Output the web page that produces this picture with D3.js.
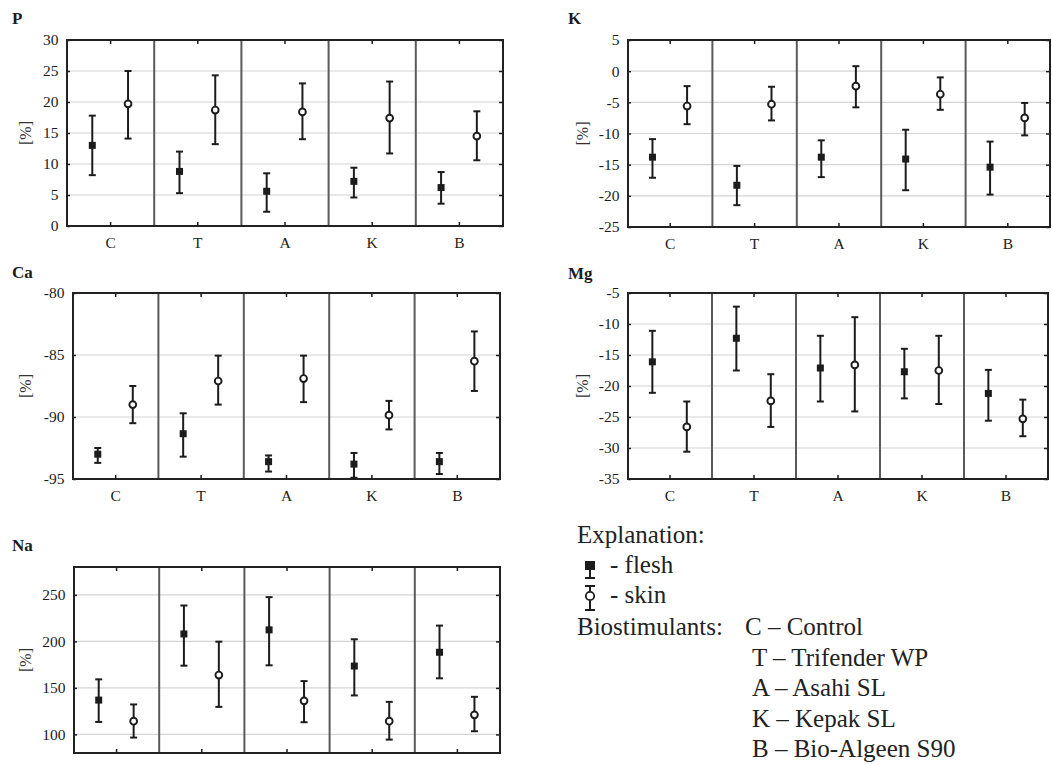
<!DOCTYPE html>
<html>
<head>
<meta charset="utf-8">
<script src="https://cdn.jsdelivr.net/npm/d3@7"></script>
<style>
  body { margin: 0; background: #fff; }
</style>
</head>
<body>
<svg id="chart" width="1052" height="765"></svg>
<script>
// biostimulant groups
var categories = ["C", "T", "A", "K", "B"];

// each entry: [lower, mean, upper]
var pFlesh = [[8.2, 13.0, 17.8], [5.3, 8.8, 12.0], [2.3, 5.6, 8.5], [4.6, 7.2, 9.4], [3.6, 6.2, 8.7]];
var pSkin  = [[14.1, 19.7, 25.0], [13.2, 18.7, 24.3], [14.0, 18.4, 23.0], [11.7, 17.4, 23.3], [10.6, 14.5, 18.5]];

var kFlesh = [[-17.1, -13.8, -10.9], [-21.5, -18.3, -15.2], [-17.0, -13.8, -11.1], [-19.1, -14.1, -9.4], [-19.8, -15.4, -11.3]];
var kSkin  = [[-8.5, -5.6, -2.4], [-7.9, -5.3, -2.5], [-5.8, -2.4, 0.8], [-6.2, -3.7, -1.0], [-10.3, -7.5, -5.1]];

var caFlesh = [[-93.7, -93.0, -92.5], [-93.2, -91.35, -89.7], [-94.4, -93.6, -93.1], [-94.9, -93.8, -92.9], [-94.6, -93.6, -92.9]];
var caSkin  = [[-90.5, -89.0, -87.5], [-89.0, -87.1, -85.05], [-88.8, -86.9, -85.05], [-91.0, -89.85, -88.7], [-87.9, -85.5, -83.1]];

var mgFlesh = [[-21.1, -16.1, -11.1], [-17.5, -12.3, -7.2], [-22.5, -17.1, -11.9], [-22.0, -17.7, -14.0], [-25.6, -21.2, -17.4]];
var mgSkin  = [[-30.6, -26.6, -22.5], [-26.6, -22.4, -18.1], [-24.1, -16.6, -8.9], [-22.9, -17.5, -11.9], [-28.1, -25.3, -22.2]];

var naFlesh = [[113.4, 136.9, 159.2], [173.9, 208.0, 238.6], [174.3, 212.4, 247.6], [141.9, 173.5, 202.3], [160.3, 188.3, 217.0]];
var naSkin  = [[96.6, 114.2, 132.2], [129.6, 163.8, 199.7], [113.1, 136.1, 157.3], [94.4, 114.2, 135.0], [103.4, 121.0, 140.4]];

// y-axis ticks
var pTicks = [0, 5, 10, 15, 20, 25, 30];
var kTicks = [-25, -20, -15, -10, -5, 0, 5];
var caTicks = [-95, -90, -85, -80];
var mgTicks = [-35, -30, -25, -20, -15, -10, -5];
var naTicks = [100, 150, 200, 250];

var legendNames = ["C \u2013 Control", "T \u2013 Trifender WP", "A \u2013 Asahi SL", "K \u2013 Kepak SL", "B \u2013 Bio-Algeen S90"];

var panels = [
  {name: "P",  flesh: pFlesh,  skin: pSkin,  domain: [0, 30],    ticks: pTicks,  box: [67, 40, 503, 226],    tx: 12,  ty: 24,  lx: 25},
  {name: "K",  flesh: kFlesh,  skin: kSkin,  domain: [-25, 5],   ticks: kTicks,  box: [628, 40, 1050, 227],  tx: 568, ty: 24,  lx: 582},
  {name: "Ca", flesh: caFlesh, skin: caSkin, domain: [-95, -80], ticks: caTicks, box: [73, 293, 500, 479],   tx: 12,  ty: 278, lx: 25},
  {name: "Mg", flesh: mgFlesh, skin: mgSkin, domain: [-35, -5],  ticks: mgTicks, box: [628, 293, 1048, 479], tx: 568, ty: 279, lx: 582},
  {name: "Na", flesh: naFlesh, skin: naSkin, domain: [80, 280],  ticks: naTicks, box: [74, 567, 500, 753],   tx: 12,  ty: 551, lx: 25}
];

var svg = d3.select("#chart");
var ink = "#1c1c1c";

panels.forEach(function(p) {
  var x0 = p.box[0], y0 = p.box[1], x1 = p.box[2], y1 = p.box[3];
  var x = d3.scaleBand().domain(categories).range([x0, x1]).paddingInner(0).paddingOuter(0);
  var y = d3.scaleLinear().domain(p.domain).range([y1, y0]);
  var bw = x.bandwidth();
  var g = svg.append("g").attr("class", "panel");

  // gridlines
  g.selectAll(".grid")
      .data(p.ticks.filter(function(t) { return t !== p.domain[0] && t !== p.domain[1]; }))
    .enter().append("line")
      .attr("x1", x0).attr("x2", x1)
      .attr("y1", function(d) { return y(d); })
      .attr("y2", function(d) { return y(d); })
      .style("stroke", "#d4d4d4").style("stroke-width", 1.2);

  // group dividers
  g.selectAll(".divider")
      .data(categories.slice(1))
    .enter().append("line")
      .attr("x1", function(d) { return x(d); })
      .attr("x2", function(d) { return x(d); })
      .attr("y1", y0).attr("y2", y1)
      .style("stroke", "#5a5a5a").style("stroke-width", 2);

  // left axis labels
  var left = g.append("g")
      .attr("transform", "translate(" + x0 + ",0)")
      .call(d3.axisLeft(y).tickValues(p.ticks).tickSize(-3).tickPadding(8.5).tickFormat(function(d) { return String(d); }));
  left.attr("font-size", 15.5);
  left.select(".domain").remove();
  left.selectAll("text").attr("fill", ink);
  left.selectAll("line").attr("stroke", ink).attr("stroke-width", 1.5);

  // right ticks
  var right = g.append("g")
      .attr("transform", "translate(" + x1 + ",0)")
      .call(d3.axisRight(y).tickValues(p.ticks).tickSize(-4).tickFormat(""));
  right.select(".domain").remove();
  right.selectAll("line").attr("stroke", ink).attr("stroke-width", 1.5);

  // bottom category axis
  var bottom = g.append("g")
      .attr("transform", "translate(0," + y1 + ")")
      .call(d3.axisBottom(x).tickSize(-4).tickPadding(11));
  bottom.attr("font-size", 15.5);
  bottom.select(".domain").remove();
  bottom.selectAll("text").attr("fill", ink);
  bottom.selectAll("line").attr("stroke", ink).attr("stroke-width", 1.5);

  var top = g.append("g")
      .attr("transform", "translate(0," + y0 + ")")
      .call(d3.axisTop(x).tickSize(-4).tickFormat(""));
  top.select(".domain").remove();
  top.selectAll("line").attr("stroke", ink).attr("stroke-width", 1.5);

  // frame
  g.append("rect")
      .attr("x", x0).attr("y", y0)
      .attr("width", x1 - x0).attr("height", y1 - y0)
      .style("fill", "none").style("stroke", "#222").style("stroke-width", 2);

  // y label
  g.append("text")
      .attr("transform", "translate(" + (p.lx + 5.5) + "," + ((y0 + y1) / 2) + ") rotate(-90)")
      .attr("text-anchor", "middle")
      .attr("fill", "#333")
      .attr("font-size", 16)
      .text("[%]");

  // panel title
  g.append("text")
      .attr("x", p.tx).attr("y", p.ty)
      .attr("fill", ink)
      .attr("font-size", 17).attr("font-weight", "bold")
      .text(p.name);

  function drawSeries(data, offset, filled) {
    var s = g.selectAll(null)
        .data(data)
      .enter().append("g")
        .attr("transform", function(d, i) { return "translate(" + (x(categories[i]) + bw / 2 + offset * bw) + ",0)"; });
    s.append("line")
        .attr("y1", function(d) { return y(d[0]); })
        .attr("y2", function(d) { return y(d[2]); })
        .style("stroke", ink).style("stroke-width", 2);
    s.selectAll(".cap")
        .data(function(d) { return [d[0], d[2]]; })
      .enter().append("line")
        .attr("x1", -3.5).attr("x2", 3.5)
        .attr("y1", function(v) { return y(v); })
        .attr("y2", function(v) { return y(v); })
        .style("stroke", ink).style("stroke-width", 2);
    if (filled) {
      s.append("rect")
          .attr("x", -3.5).attr("y", function(d) { return y(d[1]) - 3.5; })
          .attr("width", 7).attr("height", 7)
          .style("fill", ink);
    } else {
      s.append("circle")
          .attr("cy", function(d) { return y(d[1]); })
          .attr("r", 3.4)
          .style("fill", "#fff").style("stroke", ink).style("stroke-width", 1.9);
    }
  }
  drawSeries(p.flesh, -0.21, true);
  drawSeries(p.skin, 0.2, false);
});

// legend
var lg = svg.append("g").attr("font-size", 25).attr("fill", "#222");
lg.append("text").attr("x", 577).attr("y", 543).text("Explanation:");

var icons = lg.selectAll(".icon")
    .data([{label: "- flesh", filled: true, a: 562, b: 578, m: 566, ty: 573},
           {label: "- skin", filled: false, a: 586, b: 610, m: 596, ty: 603}])
  .enter().append("g")
    .attr("transform", "translate(590,0)");
icons.append("line")
    .attr("y1", function(d) { return d.a; }).attr("y2", function(d) { return d.b; })
    .style("stroke", ink).style("stroke-width", 2);
icons.selectAll(".c").data(function(d) { return [d.a, d.b]; }).enter().append("line")
    .attr("x1", -5).attr("x2", 5)
    .attr("y1", function(v) { return v; }).attr("y2", function(v) { return v; })
    .style("stroke", ink).style("stroke-width", 2);
icons.filter(function(d) { return d.filled; }).append("rect")
    .attr("x", -5).attr("y", function(d) { return d.m - 4; }).attr("width", 10).attr("height", 8).style("fill", ink);
icons.filter(function(d) { return !d.filled; }).append("circle")
    .attr("cy", function(d) { return d.m; })
    .attr("r", 4.2).style("fill", "#fff").style("stroke", ink).style("stroke-width", 1.8);
icons.append("text").attr("x", 20).attr("y", function(d) { return d.ty; }).text(function(d) { return d.label; });

lg.append("text").attr("x", 577).attr("y", 635).text("Biostimulants:");
lg.selectAll(".bio")
    .data(legendNames)
  .enter().append("text")
    .attr("x", function(d, i) { return i === 0 ? 745 : 752; })
    .attr("y", function(d, i) { return 635 + i * 30.5; })
    .text(String);

// serif face on every text
svg.selectAll("text").style("font-family", "'Liberation Serif'");
</script>
</body>
</html>
